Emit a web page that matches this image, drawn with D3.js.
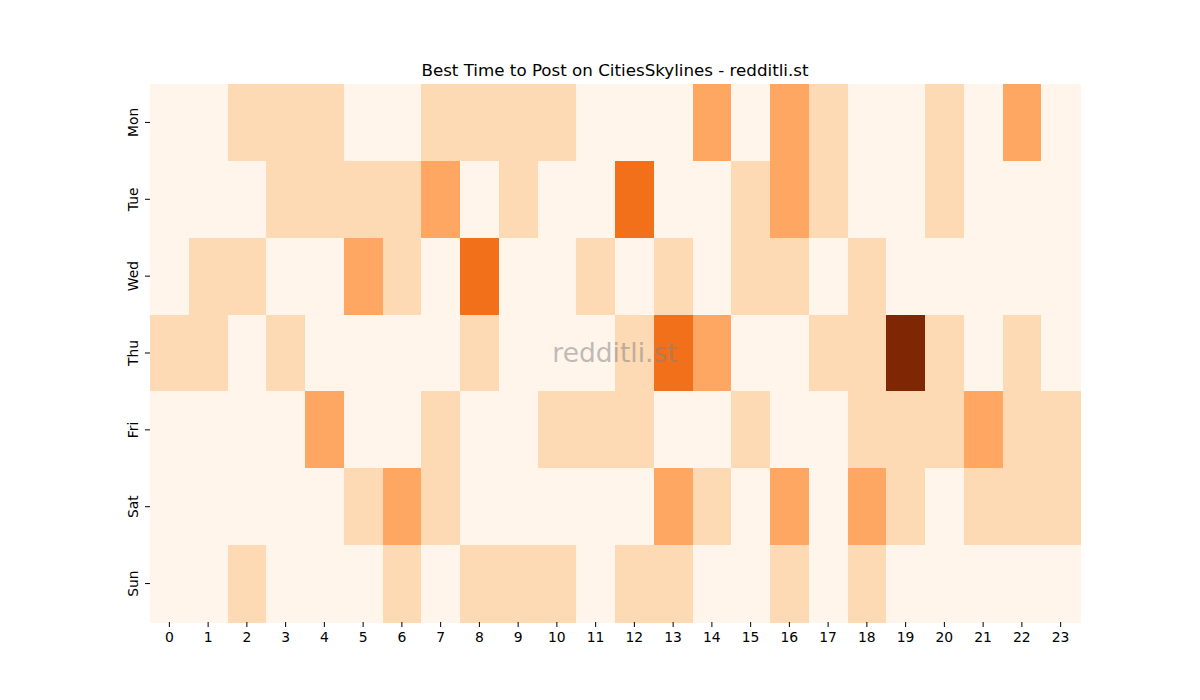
<!DOCTYPE html>
<html><head><meta charset="utf-8">
<script src="https://cdn.jsdelivr.net/npm/d3@7"></script>
<style>body{margin:0;background:#fff;} text{font-family:"DejaVu Sans",sans-serif;}</style>
</head><body>
<svg id="c" width="1200" height="700"></svg>
<script>
const days = ["Mon","Tue","Wed","Thu","Fri","Sat","Sun"];
const hours = d3.range(24).map(String);
const mon = [0,0,1,1,1,0,0,1,1,1,1,0,0,0,2,0,2,1,0,0,1,0,2,0];
const tue = [0,0,0,1,1,1,1,2,0,1,0,0,3,0,0,1,2,1,0,0,1,0,0,0];
const wed = [0,1,1,0,0,2,1,0,3,0,0,1,0,1,0,1,1,0,1,0,0,0,0,0];
const thu = [1,1,0,1,0,0,0,0,1,0,0,0,1,3,2,0,0,1,1,5,1,0,1,0];
const fri = [0,0,0,0,2,0,0,1,0,0,1,1,1,0,0,1,0,0,1,1,1,2,1,1];
const sat = [0,0,0,0,0,1,2,1,0,0,0,0,0,2,1,0,2,0,2,1,0,1,1,1];
const sun = [0,0,1,0,0,0,1,0,1,1,1,0,1,1,0,0,1,0,1,0,0,0,0,0];
const rows = [mon,tue,wed,thu,fri,sat,sun];
const title = "Best Time to Post on CitiesSkylines - redditli.st";
const watermark = "redditli.st";

const orangeStops = ["#fff5eb","#fee6ce","#fdd0a2","#fdae6b","#fd8d3c","#f16913","#d94801","#a63603","#7f2704"];
const vmax = 5;
const color = d3.scaleLinear()
  .domain(orangeStops.map((_,i)=>i/(orangeStops.length-1)*vmax))
  .range(orangeStops).interpolate(d3.interpolateRgb).clamp(true);

const L=150,R=1080,T=84,B=622;
const svg = d3.select("#c");
const x = d3.scaleBand().domain(hours).range([L,R]);
const y = d3.scaleBand().domain(days).range([T,B]);

const cells = [];
rows.forEach((r,i)=>r.forEach((v,j)=>cells.push({d:days[i],h:hours[j],v})));
svg.append("g").selectAll("rect").data(cells).join("rect")
  .attr("x",d=>x(d.h)).attr("y",d=>y(d.d))
  .attr("width",x.bandwidth()+0.5).attr("height",y.bandwidth()+0.5)
  .attr("fill",d=>color(d.v)).attr("shape-rendering","crispEdges");

const xa = svg.append("g").attr("transform",`translate(0,${B})`)
  .call(d3.axisBottom(x).tickSize(5).tickPadding(5));
xa.select(".domain").remove();
xa.selectAll("text").attr("font-size",13.9).attr("fill","#000").style("font-family","DejaVu Sans");
xa.selectAll("line").attr("stroke","#000").attr("stroke-width",1);

const ya = svg.append("g").attr("transform",`translate(${L},0)`)
  .call(d3.axisLeft(y).tickSize(5).tickPadding(5));
ya.select(".domain").remove();
ya.selectAll("line").attr("stroke","#000");
ya.selectAll("text").attr("font-size",13.9).attr("fill","#000").style("font-family","DejaVu Sans")
  .attr("x",0).attr("dy",0).attr("text-anchor","middle")
  .attr("transform","translate(-17,0) rotate(-90)")
  .attr("dominant-baseline","central");

svg.append("text").attr("x",(L+R)/2).attr("y",76).attr("text-anchor","middle")
  .attr("font-size",16.7).attr("fill","#000").text(title);

svg.append("text").attr("x",(L+R)/2).attr("y",362).attr("text-anchor","middle")
  .attr("font-size",26.5).attr("fill","#808080").attr("fill-opacity",0.5).text(watermark);
</script>
</body></html>
